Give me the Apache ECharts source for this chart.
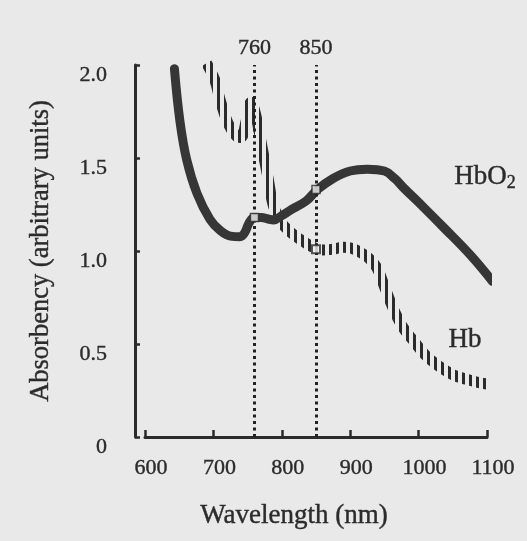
<!DOCTYPE html>
<html><head><meta charset="utf-8">
<script src="https://cdn.jsdelivr.net/npm/echarts@6/dist/echarts.min.js"></script>
<style>html,body{margin:0;padding:0;background:#e9e9e9}#c{width:527px;height:541px}</style>
</head><body><div id="c"></div>
<script>
// ---- data ----
const hbo2Wavelength = [643, 651, 661, 676, 695, 710, 725, 739, 746, 752, 760, 770, 780, 788, 800, 815, 836, 852, 875, 900, 925, 950, 965, 978, 1007, 1037, 1076, 1108];
const hbo2Absorbency = [1.98, 1.70, 1.49, 1.31, 1.17, 1.11, 1.08, 1.077, 1.10, 1.15, 1.18, 1.18, 1.172, 1.167, 1.19, 1.225, 1.27, 1.33, 1.39, 1.43, 1.44, 1.43, 1.39, 1.34, 1.236, 1.125, 0.977, 0.837];
const hbWavelength = [690, 702, 710, 721, 733, 740, 748, 755, 762, 771, 780, 788, 800, 810, 820, 832, 846, 860, 875, 890, 902, 914, 926, 939, 950, 963, 977, 992, 1010, 1030, 1050, 1070, 1085, 1100];
const hbAbsorbency = [2.01, 1.92, 1.81, 1.69, 1.62, 1.61, 1.70, 1.80, 1.73, 1.56, 1.39, 1.24, 1.15, 1.11, 1.08, 1.05, 1.02, 1.005, 1.01, 1.02, 1.015, 0.995, 0.965, 0.91, 0.81, 0.69, 0.59, 0.52, 0.44, 0.38, 0.335, 0.31, 0.295, 0.285];
const markWavelengths = [760, 850];
const markLabels = ['760', '850'];
const hbo2Crossings = [[760, 1.18], [850, 1.33]];
const hbCrossings = [[850, 1.01]];
const xTickLabels = ['600', '700', '800', '900', '1000', '1100'];
const yTickLabels = ['0', '0.5', '1.0', '1.5', '2.0'];

const serif = "'Liberation Serif','DejaVu Serif',serif";
const ink = '#2b2b2b';
const bold = {textBorderColor: ink, textBorderWidth: 0.4};

// vertical hatch pattern for the Hb curve
const pat = document.createElement('canvas');
pat.width = 7; pat.height = 4;
const pctx = pat.getContext('2d');
pctx.fillStyle = '#2b2b2b';
pctx.fillRect(0, 0, 3, 4);

const zip = (a, b) => a.map((v, i) => [v, b[i]]);

const chart = echarts.init(document.getElementById('c'), null, {renderer: 'canvas'});
chart.setOption({
  backgroundColor: '#e9e9e9',
  animation: false,
  grid: {left: 145, right: 40, top: 65, bottom: 104},
  xAxis: {
    type: 'value', min: 600, max: 1100, interval: 100,
    axisLine: {show: true, lineStyle: {color: ink, width: 3}},
    axisTick: {show: true, inside: true, length: 7, lineStyle: {color: ink, width: 2.5}},
    splitLine: {show: false},
    axisLabel: Object.assign({
      formatter: (v) => xTickLabels[Math.round((v - 600) / 100)],
      margin: 20, fontSize: 22, fontFamily: serif, color: ink, padding: [0, 0, 0, 12]
    }, bold),
    name: 'Wavelength (nm)', nameLocation: 'middle', nameGap: 65,
    nameTextStyle: Object.assign({fontSize: 27, fontFamily: serif, color: ink, padding: [0, 44, 0, 0]}, bold)
  },
  yAxis: {
    type: 'value', min: 0, max: 2, interval: 0.5, offset: 10,
    axisLine: {show: true, lineStyle: {color: ink, width: 3}},
    axisTick: {show: true, inside: true, length: 5, lineStyle: {color: ink, width: 2.5}},
    splitLine: {show: false},
    axisLabel: Object.assign({
      formatter: (v) => yTickLabels[Math.round(v / 0.5)],
      margin: 28, fontSize: 22, fontFamily: serif, color: ink,
      verticalAlign: 'top', lineHeight: 20
    }, bold),
    name: 'Absorbency (arbitrary units)', nameLocation: 'middle', nameGap: 80,
    nameTextStyle: Object.assign({fontSize: 26.5, fontFamily: serif, color: ink}, bold)
  },
  series: [
    {
      name: 'Hb', type: 'line', data: zip(hbWavelength, hbAbsorbency),
      smooth: 0.4, showSymbol: false, clip: false, z: 2,
      lineStyle: {width: 11, color: {image: pat, repeat: 'repeat'}},
      markPoint: {
        symbol: 'circle', symbolSize: 0, silent: true,
        label: Object.assign({show: true, position: 'inside', formatter: 'Hb', fontSize: 27, fontFamily: serif, color: ink}, bold),
        data: [{coord: [1068, 0.52]}]
      }
    },
    {
      name: 'HbO2', type: 'line', data: zip(hbo2Wavelength, hbo2Absorbency),
      smooth: 0.4, showSymbol: false, clip: false, z: 3,
      lineStyle: {width: 9, color: '#363636', cap: 'round', join: 'round'},
      markLine: {
        silent: true, symbol: ['none', 'none'],
        lineStyle: {type: [3, 3.5], width: 3, color: '#222'},
        label: Object.assign({show: true, position: 'end', distance: 6, fontSize: 22, fontFamily: serif, color: ink,
          formatter: (p) => markLabels[markWavelengths.indexOf(p.value)]}, bold),
        data: markWavelengths.map(w => ({xAxis: w}))
      },
      markPoint: {
        symbol: 'circle', symbolSize: 0, silent: true,
        label: {show: true, position: 'inside', formatter: '{a|HbO}{b|2}', color: ink,
          rich: {a: Object.assign({fontSize: 27, fontFamily: serif, color: ink}, bold), b: Object.assign({fontSize: 18, fontFamily: serif, color: ink, padding: [14, 0, 0, 0]}, bold)}},
        data: [{coord: [1097, 1.40]}]
      }
    },
    {
      type: 'scatter', data: hbo2Crossings, symbol: 'rect', symbolSize: 8, z: 5, silent: true,
      itemStyle: {color: '#f2f2f2', borderColor: ink, borderWidth: 1.5}
    },
    {
      type: 'scatter', data: hbCrossings, symbol: 'rect', symbolSize: 8, z: 5, silent: true,
      itemStyle: {color: '#f2f2f2', borderColor: ink, borderWidth: 2}
    }
  ]
});
</script>
</body></html>
